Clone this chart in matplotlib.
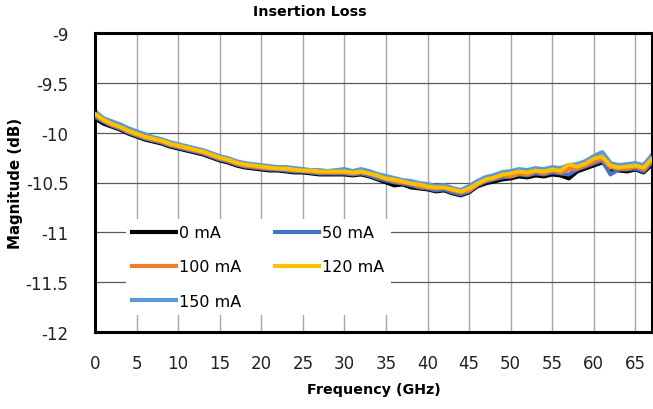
import matplotlib.pyplot as plt

plt.rcParams['font.family'] = ['DejaVu Sans']

freq = list(range(0, 68))

ma0 = [-9.86, -9.91, -9.94, -9.97, -10.01, -10.04, -10.07, -10.09, -10.11, -10.14,
       -10.16, -10.18, -10.20, -10.22, -10.25, -10.28, -10.30, -10.33, -10.35, -10.36,
       -10.37, -10.38, -10.38, -10.39, -10.40, -10.40, -10.41, -10.42, -10.42, -10.42,
       -10.42, -10.43, -10.42, -10.44, -10.47, -10.50, -10.53, -10.52, -10.55, -10.56,
       -10.57, -10.59, -10.58, -10.61, -10.63, -10.60, -10.54, -10.51, -10.49, -10.47,
       -10.46, -10.44, -10.45, -10.43, -10.44, -10.42, -10.43, -10.46, -10.39, -10.36,
       -10.33, -10.30, -10.37, -10.38, -10.39, -10.37, -10.40, -10.32]
ma50 = [-9.84, -9.89, -9.93, -9.96, -10.00, -10.03, -10.06, -10.08, -10.10, -10.13,
        -10.15, -10.17, -10.19, -10.21, -10.24, -10.27, -10.29, -10.32, -10.34, -10.35,
        -10.36, -10.37, -10.37, -10.38, -10.39, -10.39, -10.40, -10.41, -10.41, -10.41,
        -10.41, -10.42, -10.41, -10.43, -10.46, -10.48, -10.50, -10.51, -10.53, -10.55,
        -10.56, -10.58, -10.57, -10.60, -10.62, -10.59, -10.53, -10.49, -10.47, -10.45,
        -10.44, -10.42, -10.43, -10.41, -10.42, -10.40, -10.41, -10.42, -10.37, -10.34,
        -10.31, -10.28, -10.42, -10.37, -10.37, -10.36, -10.39, -10.30]
ma100 = [-9.82, -9.88, -9.92, -9.95, -9.99, -10.02, -10.05, -10.07, -10.09, -10.12,
         -10.14, -10.16, -10.18, -10.20, -10.23, -10.26, -10.28, -10.31, -10.33, -10.34,
         -10.35, -10.36, -10.36, -10.37, -10.38, -10.38, -10.39, -10.40, -10.40, -10.40,
         -10.40, -10.41, -10.40, -10.41, -10.44, -10.46, -10.49, -10.50, -10.51, -10.54,
         -10.55, -10.56, -10.55, -10.58, -10.60, -10.58, -10.52, -10.48, -10.46, -10.43,
         -10.44, -10.41, -10.42, -10.39, -10.41, -10.38, -10.40, -10.37, -10.36, -10.33,
         -10.29, -10.26, -10.35, -10.36, -10.36, -10.34, -10.37, -10.28]
ma120 = [-9.81, -9.87, -9.91, -9.94, -9.98, -10.01, -10.04, -10.06, -10.08, -10.11,
         -10.13, -10.15, -10.17, -10.19, -10.22, -10.25, -10.27, -10.30, -10.32, -10.33,
         -10.34, -10.35, -10.36, -10.36, -10.37, -10.38, -10.38, -10.39, -10.39, -10.39,
         -10.39, -10.40, -10.39, -10.41, -10.43, -10.46, -10.47, -10.49, -10.51, -10.52,
         -10.54, -10.55, -10.55, -10.57, -10.59, -10.56, -10.51, -10.47, -10.45, -10.42,
         -10.41, -10.39, -10.40, -10.38, -10.39, -10.37, -10.38, -10.32, -10.34, -10.31,
         -10.26, -10.24, -10.33, -10.35, -10.34, -10.33, -10.35, -10.26]
ma150 = [-9.79, -9.86, -9.89, -9.92, -9.96, -9.99, -10.02, -10.05, -10.07, -10.10,
         -10.12, -10.14, -10.16, -10.18, -10.21, -10.24, -10.26, -10.29, -10.31, -10.32,
         -10.33, -10.34, -10.35, -10.35, -10.36, -10.37, -10.38, -10.38, -10.39, -10.38,
         -10.37, -10.39, -10.37, -10.39, -10.42, -10.44, -10.46, -10.48, -10.49, -10.51,
         -10.52, -10.54, -10.53, -10.56, -10.58, -10.54, -10.49, -10.45, -10.43, -10.40,
         -10.39, -10.37, -10.38, -10.36, -10.37, -10.35, -10.36, -10.33, -10.32, -10.29,
         -10.24, -10.20, -10.31, -10.33, -10.32, -10.31, -10.33, -10.23]

xticks = list(range(0, 70, 5))
yticks = [-12, -11.5, -11, -10.5, -10, -9.5, -9]

fig = plt.figure(figsize=(6.53, 4.10), dpi=100)
ax = fig.add_axes([95 / 653, 77 / 410, 557 / 653, 299 / 410])

l150, = ax.plot(freq, ma150, color='#5B9BD5', lw=3.6, label='150 mA', zorder=2)
l0, = ax.plot(freq, ma0, color='black', lw=2.8, label='0 mA', zorder=3)
l50, = ax.plot(freq, ma50, color='#4472C4', lw=2.8, label='50 mA', zorder=4)
l100, = ax.plot(freq, ma100, color='#ED7D31', lw=2.8, label='100 mA', zorder=5)
l120, = ax.plot(freq, ma120, color='#FFC000', lw=2.8, label='120 mA', zorder=6)

ax.set_xlim(0, 67)
ax.set_ylim(-12, -9)
ax.set_xticks(xticks)
ax.set_yticks(yticks)
ax.set_yticklabels([f'{v:g}' for v in yticks])
ax.tick_params(length=0, labelsize=12, pad=19)
ax.tick_params(axis='x', pad=16)
for t in ax.get_xticklabels() + ax.get_yticklabels():
    t.set_color('#222222')

ax.grid(axis='x', color='#A6A6A6', lw=1.0, zorder=0)
ax.grid(axis='y', color='#595959', lw=0.9, zorder=0)
ax.set_axisbelow(True)
for s in ax.spines.values():
    s.set_linewidth(2.2)
    s.set_color('black')

ax.set_xlabel('Frequency (GHz)', fontsize=10.3, fontweight='bold', labelpad=7)
ax.set_ylabel('Magnitude (dB)', fontsize=10.8, fontweight='bold', labelpad=2)
fig.text(310 / 653, 1 - 12 / 410, 'Insertion Loss', fontsize=10.3, fontweight='bold',
         ha='center', va='center')

leg = ax.legend(handles=[l0, l100, l150, l50, l120], ncol=2, loc='lower left',
                bbox_to_anchor=(0.041, 0.03), fontsize=11.5, frameon=True,
                fancybox=False, handlelength=2.75, handletextpad=0.2,
                labelspacing=1.2, columnspacing=2.1, borderpad=0.4)
leg.get_frame().set_edgecolor('none')
leg.get_frame().set_facecolor('white')
leg.get_frame().set_alpha(1.0)
leg.set_zorder(10)
for h in leg.legend_handles:
    h.set_linewidth(3.0)

fig.savefig('out.png', dpi=100)
